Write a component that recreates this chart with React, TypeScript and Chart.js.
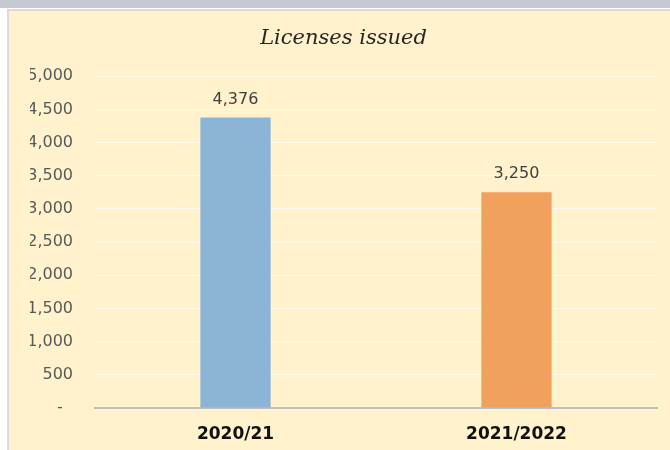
import React, { useEffect, useRef } from "react";
import { Chart, registerables } from "chart.js";

Chart.register(...registerables);

const categories = ["2020/21", "2021/2022"];
const licenses = [4376, 3250];
const barColors = ["#8CB4D6", "#F1A15E"];
const yTicks = [0, 500, 1000, 1500, 2000, 2500, 3000, 3500, 4000, 4500, 5000];
const titleText = "Licenses issued";

const fmt = (v: number) => (v === 0 ? "-  " : v.toLocaleString("en-US"));

const valueLabels = {
  id: "valueLabels",
  afterDatasetsDraw(chart: any) {
    const ctx = chart.ctx;
    const meta = chart.getDatasetMeta(0);
    ctx.save();
    ctx.font = "16px 'DejaVu Sans'";
    ctx.fillStyle = "#404040";
    ctx.textAlign = "center";
    ctx.textBaseline = "middle";
    meta.data.forEach((bar: any, i: number) => {
      ctx.fillText(fmt(licenses[i]), bar.x, bar.y - 18);
    });
    ctx.restore();
  },
};

export default function App() {
  const ref = useRef<HTMLCanvasElement>(null);
  useEffect(() => {
    if (!ref.current) return;
    const chart = new Chart(ref.current, {
      type: "bar",
      data: {
        labels: categories,
        datasets: [
          {
            data: licenses,
            backgroundColor: barColors,
            barPercentage: 0.25,
            categoryPercentage: 1,
          },
        ],
      },
      options: {
        animation: false,
        responsive: false,
        maintainAspectRatio: false,
        layout: { padding: { left: 21, right: 13, top: 0, bottom: 0 } },
        plugins: {
          legend: { display: false },
          tooltip: { enabled: false },
          title: {
            display: true,
            text: titleText,
            color: "#262626",
            font: { family: "'DejaVu Serif'", size: 21, style: "italic", weight: "normal", lineHeight: 1.2 },
            padding: { top: 15, bottom: 25 },
          },
        },
        scales: {
          x: {
            grid: { display: false, drawTicks: false },
            border: { display: true, color: "#BFBFBF", width: 2 },
            ticks: {
              color: "#111111",
              font: { family: "'DejaVu Sans'", size: 17, weight: "bold" },
              padding: 16,
            },
            afterFit: (s: any) => {
              s.height = 42;
            },
          },
          y: {
            min: 0,
            max: 5000,
            afterBuildTicks: (s: any) => {
              s.ticks = yTicks.map((v) => ({ value: v }));
            },
            grid: { color: "rgba(255,255,255,0.6)", lineWidth: 1, drawTicks: false },
            border: { display: false },
            ticks: {
              color: "#595959",
              font: { family: "'DejaVu Sans'", size: 16 },
              padding: 22,
              callback: (v: any) => fmt(Number(v)),
            },
            afterFit: (s: any) => {
              s.width = 65;
            },
          },
        },
      },
      plugins: [valueLabels],
    });
    return () => chart.destroy();
  }, []);

  return (
    <div style={{ position: "fixed", left: 0, top: 0, width: 670, height: 450, background: "#FFFFFF", overflow: "hidden" }}>
      <div style={{ position: "absolute", left: 0, top: 0, width: 670, height: 8, background: "#C5C9D2" }} />
      <div
        style={{
          position: "absolute",
          left: 7,
          top: 9,
          width: 663,
          height: 441,
          boxSizing: "border-box",
          background: "#FFF2CC",
          borderLeft: "2px solid #DADADA",
          borderTop: "2px solid #DADADA",
        }}
      >
        <canvas ref={ref} width={661} height={439} style={{ display: "block", width: 661, height: 439 }} />
      </div>
    </div>
  );
}
